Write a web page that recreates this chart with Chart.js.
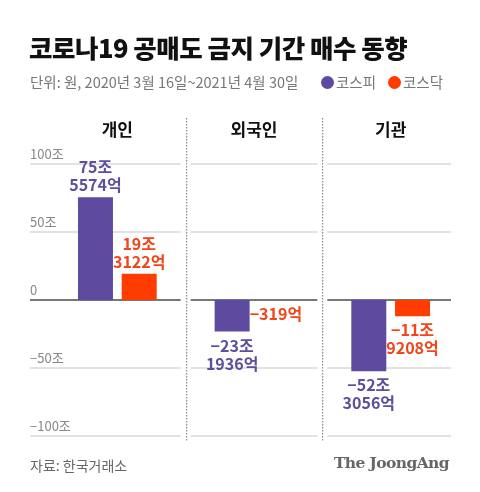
<!DOCTYPE html>
<html>
<head>
<meta charset="utf-8">
<script src="https://cdn.jsdelivr.net/npm/chart.js@4.4.1/dist/chart.umd.min.js"></script>
<style>
  html, body { margin: 0; padding: 0; background: #fff; }
  body { width: 480px; height: 492px; position: relative; overflow: hidden;
         font-family: "Noto Sans CJK KR", "Noto Sans", sans-serif; }
  #wrap { position: absolute; left: 0; top: 0; width: 480px; height: 492px; }
  .title { position: absolute; left: 29px; top: 28px; font-size: 25.5px; font-weight: 900;
           color: #111; letter-spacing: -0.5px; white-space: nowrap; }
  .sub { position: absolute; left: 30px; top: 71px; font-size: 14.5px; color: #777;
         letter-spacing: 0; white-space: nowrap; }
  .legend { position: absolute; top: 71px; font-size: 14.5px; color: #777; white-space: nowrap; }
  .dot { display: inline-block; width: 13px; height: 13px; border-radius: 50%;
         vertical-align: -1px; margin-right: 2px; }
  .src { position: absolute; left: 30px; top: 455px; font-size: 14px; color: #666; }
  .brand { position: absolute; right: 31px; top: 453px; font-size: 15.5px; font-weight: bold;
           color: #666; font-family: "DejaVu Serif", "Liberation Serif", serif; letter-spacing: -0.6px; }
</style>
</head>
<body>
<div id="wrap"><canvas id="chart" width="480" height="492"></canvas></div>
<div class="title">코로나19 공매도 금지 기간 매수 동향</div>
<div class="sub">단위: 원, 2020년 3월 16일~2021년 4월 30일</div>
<div class="legend" style="left:321px"><span class="dot" style="background:#5e4ba0"></span>코스피</div>
<div class="legend" style="left:388px"><span class="dot" style="background:#ff3c00"></span>코스닥</div>
<div class="src">자료: 한국거래소</div>
<div class="brand">The JoongAng</div>

<script>
/* ==========================
   DATA (단위: 조원)
========================== */
const categories = ["개인", "외국인", "기관"];
const kospi = [75.5574, -23.1936, -52.3056];
const kosdaq = [19.3122, -0.0319, -11.9208];
const kospiLabels = [["75조", "5574억"], ["−23조", "1936억"], ["−52조", "3056억"]];
const kosdaqLabels = [["19조", "3122억"], ["−319억"], ["−11조", "9208억"]];
const yTicks = [100, 50, 0, -50, -100];
const yTickLabels = ["100조", "50조", "0", "−50조", "−100조"];

const PURPLE = "#5e4ba0";
const ORANGE = "#ff3c00";
const PURPLE_TXT = "#5d4e9e";
const ORANGE_TXT = "#f2461a";

/* ==========================
   GRID / PANELS
========================== */
const panelPlugin = {
  id: "panels",
  beforeDatasetsDraw(chart) {
    const { ctx, scales: { x, y } } = chart;
    const half = (x.getPixelForValue(1) - x.getPixelForValue(0)) / 2;
    ctx.save();

    categories.forEach((c, i) => {
      const cx = x.getPixelForValue(i);
      let left = cx - half + 5;
      let right = cx + half - 5;
      if (i === 0) left = 30;
      if (i === categories.length - 1) right = cx + half - 8;

      yTicks.forEach(t => {
        const py = Math.round(y.getPixelForValue(t));
        ctx.strokeStyle = t === 0 ? "#777" : "#e2e2e2";
        ctx.lineWidth = 2;
        ctx.beginPath();
        ctx.moveTo(left, py);
        ctx.lineTo(right, py);
        ctx.stroke();
      });

      // panel title
      ctx.fillStyle = "#111";
      ctx.font = "bold 17px 'Noto Sans CJK KR'";
      ctx.textAlign = "center";
      ctx.textBaseline = "middle";
      ctx.fillText(c, cx, 130);

      // dotted separator
      if (i < categories.length - 1) {
        const sx = Math.round(cx + half) + 0.5;
        ctx.fillStyle = "#888";
        for (let yy = 118; yy < 441; yy += 3) ctx.fillRect(sx - 0.5, yy, 1.2, 1.5);
      }
    });

    // y tick labels
    ctx.fillStyle = "#888";
    ctx.font = "13px 'Noto Sans CJK KR'";
    ctx.textAlign = "left";
    ctx.textBaseline = "middle";
    yTicks.forEach((t, k) => {
      ctx.fillText(yTickLabels[k], 30, y.getPixelForValue(t) - 10);
    });
    ctx.restore();
  }
};

/* ==========================
   VALUE LABELS
========================== */
const labelPlugin = {
  id: "valueLabels",
  afterDatasetsDraw(chart) {
    const { ctx } = chart;
    const sets = [
      { labels: kospiLabels, values: kospi, color: PURPLE_TXT },
      { labels: kosdaqLabels, values: kosdaq, color: ORANGE_TXT }
    ];
    ctx.save();
    ctx.font = "bold 16px 'Noto Sans CJK KR'";
    ctx.textAlign = "center";
    ctx.textBaseline = "middle";
    sets.forEach((s, di) => {
      chart.getDatasetMeta(di).data.forEach((bar, i) => {
        ctx.fillStyle = s.color;
        const lines = s.labels[i];
        if (s.values[i] >= 0) {
          lines.forEach((ln, k) => {
            ctx.fillText(ln, bar.x, bar.y - 12 - (lines.length - 1 - k) * 18);
          });
        } else {
          const bottom = Math.max(bar.y, bar.base);
          lines.forEach((ln, k) => {
            ctx.fillText(ln, bar.x, bottom + 14 + k * 18);
          });
        }
      });
    });
    ctx.restore();
  }
};

/* ==========================
   CHART
========================== */
new Chart(document.getElementById("chart"), {
  type: "bar",
  data: {
    labels: categories,
    datasets: [
      { label: "코스피", data: kospi, backgroundColor: PURPLE },
      { label: "코스닥", data: kosdaq, backgroundColor: ORANGE }
    ]
  },
  options: {
    responsive: false,
    animation: false,
    events: [],
    categoryPercentage: 0.64,
    barPercentage: 0.8,
    layout: { padding: { top: 164, bottom: 56, left: 49, right: 21 } },
    plugins: { legend: { display: false }, tooltip: { enabled: false } },
    scales: {
      x: { display: false },
      y: { display: false, min: -100, max: 100 }
    }
  },
  plugins: [panelPlugin, labelPlugin]
});
</script>
</body>
</html>
